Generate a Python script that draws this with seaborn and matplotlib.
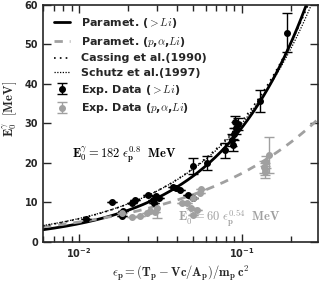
import numpy as np
import pandas as pd
import matplotlib
matplotlib.use("Agg")
import matplotlib.pyplot as plt
import seaborn as sns

# parametrisations E0 = a * eps^b
param_heavy = (182.0, 0.80)
param_light = (60.0, 0.54)
cassing = (160.0, 0.72)
schutz = (152.0, 0.706)

# Exp. data (>Li)
heavy_eps = [0.0110, 0.0160, 0.0183, 0.0187, 0.0211, 0.0221, 0.0267, 0.0284,
             0.0291, 0.0297, 0.0312, 0.0380, 0.0395, 0.0418, 0.0469, 0.0503,
             0.0500, 0.0614, 0.0790, 0.0872, 0.0897, 0.0922, 0.0905, 0.0950,
             0.0880, 0.1290, 0.1890]
heavy_E = [5.8, 10.0, 6.5, 7.9, 9.7, 10.6, 11.8, 10.6,
           9.7, 11.6, 11.2, 13.9, 13.6, 13.1, 11.8, 11.1,
           19.2, 19.9, 23.2, 25.8, 27.3, 28.8, 30.3, 29.8,
           24.5, 35.7, 53.0]
heavy_err = [0, 0, 0, 0, 0, 0, 0, 0,
             0, 0, 0, 0, 0, 0, 0, 0,
             2.0, 1.8, 1.9, 1.5, 1.5, 1.5, 1.5, 1.5,
             1.5, 2.8, 5.0]

# Exp. data (p, alpha, Li)
light_eps = [0.0183, 0.0211, 0.0237, 0.0261, 0.0272, 0.0300, 0.0295, 0.0428,
             0.0460, 0.0486, 0.0504, 0.0529, 0.0504, 0.0554, 0.0560, 0.1370,
             0.1400, 0.1420, 0.1480, 0.1390]
light_E = [7.2, 6.3, 6.5, 7.4, 7.9, 8.5, 7.6, 9.7,
           9.7, 8.5, 6.8, 8.0, 11.0, 12.3, 13.3, 19.0,
           17.7, 20.3, 22.0, 18.5]
light_err = [0, 0, 0, 0, 0, 2.4, 0, 0,
             0, 0, 0, 0, 0, 0, 0, 1.5,
             1.5, 1.5, 4.5, 1.5]

gray = "#a0a0a0"

sns.set_style("ticks")
plt.rcParams["mathtext.fontset"] = "cm"
plt.rcParams["font.family"] = ["DejaVu Sans"]

fig = plt.figure(figsize=(3.29, 2.82), dpi=100)
ax = fig.add_axes([0.1307, 0.1429, 0.8359, 0.8394])

eps = np.logspace(np.log10(0.006), np.log10(0.3), 200)
curves = pd.DataFrame({"eps": eps})
curves["heavy"] = param_heavy[0] * eps ** param_heavy[1]
curves["light"] = param_light[0] * eps ** param_light[1]
curves["cassing"] = cassing[0] * eps ** cassing[1]
curves["schutz"] = schutz[0] * eps ** schutz[1]

sns.lineplot(data=curves, x="eps", y="heavy", ax=ax, color="black", lw=2,
             label=r"Paramet. ($>Li$)")
sns.lineplot(data=curves, x="eps", y="light", ax=ax, color=gray, lw=2,
             ls=(0, (3, 2.5)), label=r"Paramet. ($p$,$\alpha$,$Li$)")
sns.lineplot(data=curves, x="eps", y="cassing", ax=ax, color="black", lw=1.2,
             ls=(0, (1, 2.5)), label="Cassing et al.(1990)")
sns.lineplot(data=curves, x="eps", y="schutz", ax=ax, color="black", lw=0.9,
             ls=(0, (1, 1.2)), label="Schutz et al.(1997)")

ax.errorbar(heavy_eps, heavy_E, yerr=heavy_err, fmt="o", color="black",
            ms=4, capsize=3.5, elinewidth=1, label=r"Exp. Data ($>Li$)")
ax.errorbar(light_eps, light_E, yerr=light_err, fmt="o", color=gray,
            ms=4, capsize=3.5, elinewidth=1, label=r"Exp. Data ($p$,$\alpha$,$Li$)")

ax.set_xscale("log")
ax.set_xlim(0.006, 0.295)
ax.set_ylim(0, 60)
ax.set_yticks([0, 10, 20, 30, 40, 50, 60])

ax.tick_params(which="both", direction="in", top=True, right=True,
               labelsize=7, width=1)
ax.tick_params(which="major", length=6)
ax.tick_params(which="minor", length=4)
ax.tick_params(axis="y", which="major", direction="inout", length=8,
               right=False)
ax.tick_params(axis="y", which="major", direction="in", length=6, right=True)
for lab in ax.get_xticklabels() + ax.get_yticklabels():
    lab.set_fontweight("bold")
for s in ax.spines.values():
    s.set_linewidth(1.2)

ax.set_xlabel(r"$\mathbf{\epsilon_p = (T_p - Vc/A_p)/m_p\,c^2}$", fontsize=9)
ax.xaxis.set_label_coords(0.5, -0.095)
ax.set_ylabel(r"$\mathbf{E_0^{\gamma}\ \ [MeV]}$", fontsize=9)
ax.yaxis.set_label_coords(-0.085, 0.56)

ax.text(0.105, 0.37, r"$\mathbf{E_0^{\gamma}=182\ \epsilon_p^{0.8}\ \ MeV}$",
        transform=ax.transAxes, fontsize=9, color="black", va="center")
ax.text(0.49, 0.10, r"$\mathbf{E_0^{\gamma}=60\ \epsilon_p^{0.54}\ \ MeV}$",
        transform=ax.transAxes, fontsize=9, color=gray, va="center")

leg = ax.legend(loc="upper left", frameon=False, fontsize=8,
                handlelength=1.4, labelspacing=0.42, borderaxespad=0.4,
                handletextpad=1.0, borderpad=0.6)
for t in leg.get_texts():
    t.set_fontweight("bold")

fig.savefig("out.png", dpi=100)
